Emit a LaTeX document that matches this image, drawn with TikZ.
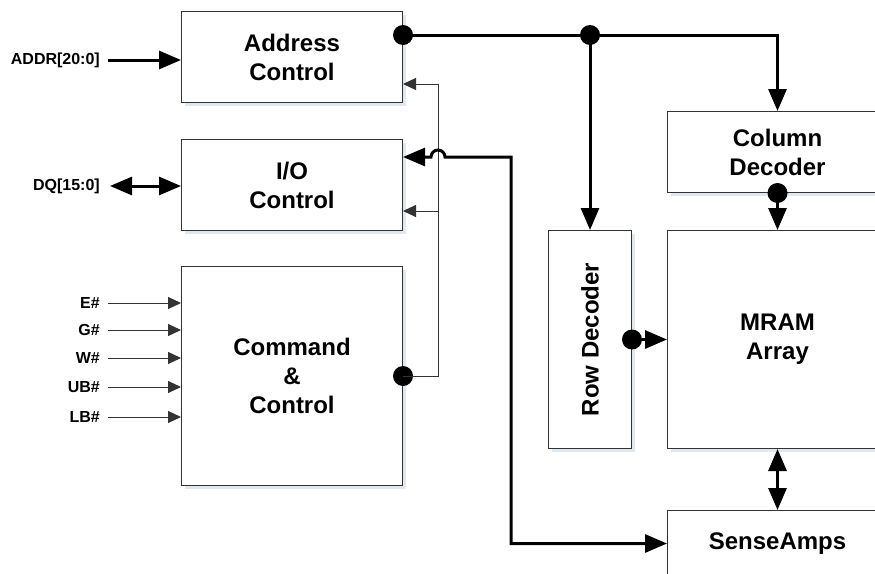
\documentclass[tikz,border=0pt]{standalone}
\usepackage{fontspec}
\setmainfont{Liberation Sans}
\usetikzlibrary{positioning,arrows.meta,shadows}
\definecolor{shadowgray}{RGB}{226,232,240}
\tikzset{
  blk/.style={draw=black!80,line width=1pt,fill=white,anchor=north west,align=center,
    font=\fontsize{24}{29}\selectfont\bfseries,
    drop shadow={shadow xshift=3pt,shadow yshift=-3pt,fill=shadowgray,opacity=1}},
  lbl/.style={font=\fontsize{16}{19}\selectfont\bfseries,inner sep=0pt},
  bus/.style={line width=3pt,-{Triangle[length=22pt,width=18pt]}},
  dbus/.style={line width=3pt,{Triangle[length=22pt,width=18pt]}-{Triangle[length=22pt,width=18pt]}},
  sig/.style={draw=black!80,line width=1pt,-{Triangle[length=13pt,width=12pt]}},
  dot/.style={circle,fill=black,inner sep=0pt,minimum size=20pt},
}
\begin{document}
\begin{tikzpicture}[x=1pt,y=-1pt]
\useasboundingbox (0,0) rectangle (875,573);

\node[blk,minimum width=221pt,minimum height=91pt] (addr) at (181,11) {Address\\Control};
\node[blk,minimum width=221pt,minimum height=91pt] (io) at (181,139) {I/O\\Control};
\node[blk,minimum width=221pt,minimum height=219pt] (cmd) at (181,266) {Command\\\&\\Control};
\node[blk,minimum width=220pt,minimum height=81pt] (col) at (667,111) {Column\\Decoder};
\node[blk,minimum width=83pt,minimum height=218pt] (row) at (548,230) {};
\node[rotate=90,font=\fontsize{24}{29}\selectfont\bfseries] (rowtxt) at (row.center) {Row Decoder};
\node[blk,minimum width=220pt,minimum height=218pt] (mram) at (667,230) {MRAM\\Array};
\node[blk,minimum width=220pt,minimum height=66pt] (sense) at (667,510) {SenseAmps};

% inputs
\coordinate (addrin) at (108,60);
\node[lbl,left=8pt of addrin] (addrlbl) {ADDR[20:0]};
\draw[bus] (addrin) -- (addr.west |- addrin);
\coordinate (dqin) at (110,186);
\node[lbl,left=10pt of dqin] (dqlbl) {DQ[15:0]};
\draw[dbus] (dqin) -- (io.west |- dqin);
\foreach \s/\y in {E\#/303,G\#/330,W\#/358,UB\#/387,LB\#/417}{
  \coordinate (in\y) at (108,\y);
  \node[lbl,left=8pt of in\y] (lbl\y) {\s};
  \draw[sig] (in\y) -- (cmd.west |- in\y);
}

% address bus
\node[dot] (da) at (addr.east |- 0,35) {};
\node[dot] (db) at (row.north |- 0,35) {};
\draw[line width=3pt] (da.center) -- (db.center);
\draw[bus] (db.center) -| (col.north);
\draw[bus] (db.center) -- (row.north);
\node[dot] (dc) at (col.south) {};
\draw[bus] (dc.center) -- (mram.north);
\node[dot] (dr) at (row.east |- mram.west) {};
\draw[bus] (dr.center) -- (mram.west);
\draw[dbus] (mram.south) -- (sense.north);

% control lines
\node[dot] (dk) at (cmd.east) {};
\draw[sig] (dk.center) -| (438,84) -- (addr.east |- 0,84);
\draw[sig] (438,211) -- (io.east |- 0,211);

% data bus
\draw[dbus] (io.east |- 0,157) -- (431,157) arc[start angle=180,end angle=0,radius=7pt]
  -- (511,157) |- (sense.west);
\end{tikzpicture}
\end{document}
